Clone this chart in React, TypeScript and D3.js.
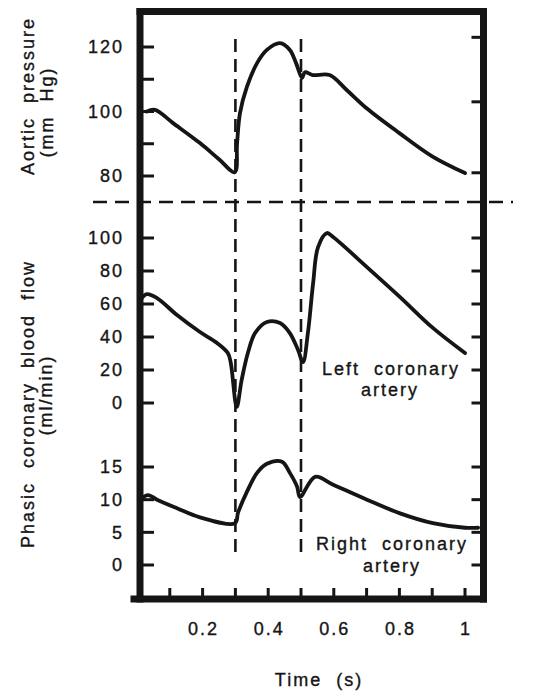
import React from "react";
import * as d3 from "d3";

// time points (s) and values
const aorticTime = [0.03, 0.055, 0.11, 0.192, 0.25, 0.298, 0.305, 0.314, 0.335, 0.366, 0.396, 0.436, 0.466, 0.485, 0.503, 0.512, 0.536, 0.587, 0.64, 0.7, 0.8, 0.9, 1.0];
const aorticPressure = [100, 100.5, 96.4, 90.2, 85.2, 81.2, 90, 99.5, 107.6, 115, 119.1, 121.2, 119.1, 115, 110.4, 112.2, 111.3, 111.3, 106.6, 101, 93.3, 86.1, 80.9];

const leftTime = [0.012, 0.03, 0.061, 0.122, 0.192, 0.244, 0.277, 0.286, 0.304, 0.319, 0.338, 0.36, 0.396, 0.436, 0.466, 0.491, 0.506, 0.521, 0.537, 0.552, 0.579, 0.598, 0.701, 0.802, 0.902, 1.0];
const leftFlow = [63, 66, 63.6, 53.3, 43, 36.4, 30.3, 24.2, -2.4, 13.9, 30.3, 42.4, 49.1, 48.5, 42.4, 32.1, 24.8, 42.4, 72.7, 94.5, 103, 100.6, 82.4, 64.2, 45.5, 30.3];

const rightTime = [0.009, 0.034, 0.061, 0.122, 0.192, 0.299, 0.308, 0.335, 0.366, 0.396, 0.442, 0.466, 0.488, 0.497, 0.543, 0.598, 0.701, 0.802, 0.902, 1.0, 1.04];
const rightFlow = [10, 10.7, 10, 8.7, 7.3, 6.4, 8, 11.2, 14.1, 15.5, 15.8, 14.1, 12, 10.4, 13.5, 12.3, 10, 7.9, 6.4, 5.7, 5.7];

const xTicks = [0.1, 0.2, 0.3, 0.4, 0.5, 0.6, 0.7, 0.8, 0.9, 1.0];
const xTickLabels = ["", "0.2", "", "0.4", "", "0.6", "", "0.8", "", "1"];
const aorticTicks = [80, 90, 100, 110, 120];
const aorticLabels = [80, 100, 120];
const aorticRightTicks = [81, 103, 123];
const leftTicks = [0, 20, 40, 60, 80, 100];
const rightTicks = [0, 5, 10, 15];
const phaseMarks = [0.3, 0.5];

const W = 533;
const H = 693;
const font = "'Liberation Sans', Arial, Helvetica, sans-serif";
const ink = "#151515";

export default function App() {
  const x = d3.scaleLinear([0, 1], [137, 465]);
  const yA = d3.scaleLinear([80, 120], [176, 47]);
  const yL = d3.scaleLinear([0, 100], [403, 238]);
  const yR = d3.scaleLinear([0, 15], [565, 467]);

  const frame = { left: 140, right: 483.5, top: 11.5, bottom: 599 };

  const line = (tt: number[], vv: number[], y: d3.ScaleLinear<number, number>) =>
    d3.line<number>()
      .x((_, i) => x(tt[i]))
      .y(v => y(v))
      .curve(d3.curveCatmullRom.alpha(0.5))(vv) as string;

  const textStyle = {
    fontFamily: font, fontSize: 18, letterSpacing: "2px", wordSpacing: "7px",
    stroke: ink, strokeWidth: 0.35,
  } as React.CSSProperties;

  const yTicks = (scale: d3.ScaleLinear<number, number>, vals: number[], side: "l" | "r") =>
    vals.map(v => (
      <line key={side + v}
        x1={side === "l" ? frame.left : frame.right}
        x2={side === "l" ? frame.left + 14 : frame.right - 12}
        y1={scale(v)} y2={scale(v)} stroke={ink} strokeWidth={3} />
    ));

  const yLabels = (scale: d3.ScaleLinear<number, number>, vals: number[]) =>
    vals.map(v => (
      <text key={v} x={124} y={scale(v)} dy="0.36em" textAnchor="end" fill={ink} style={textStyle}>{v}</text>
    ));

  return (
    <div style={{ position: "absolute", left: 0, top: 0 }}>
      <svg width={W} height={H} style={{ display: "block", background: "#fff" }}>
        {/* frame */}
        <g stroke={ink} strokeWidth={7} fill="none" strokeLinecap="square">
          <line x1={frame.left} x2={frame.left} y1={frame.top} y2={frame.bottom} />
          <line x1={frame.right} x2={frame.right} y1={frame.top} y2={frame.bottom} />
          <line x1={frame.left} x2={frame.right} y1={frame.top} y2={frame.top} />
          <line x1={134} x2={frame.right} y1={frame.bottom} y2={frame.bottom} />
        </g>

        {/* x ticks */}
        {xTicks.map((t, i) => (
          <g key={t}>
            <line x1={x(t)} x2={x(t)} y1={frame.bottom} y2={frame.bottom - 11} stroke={ink} strokeWidth={3} />
            {xTickLabels[i] && (
              <text x={x(t) + 1} y={635} textAnchor="middle" fill={ink} style={textStyle}>{xTickLabels[i]}</text>
            )}
          </g>
        ))}

        {/* y ticks */}
        {yTicks(yA, aorticTicks, "l")}
        {yTicks(yA, aorticRightTicks, "r")}
        {yTicks(yL, leftTicks, "l")}
        {yTicks(yL, leftTicks, "r")}
        {yTicks(yR, rightTicks, "l")}
        {yTicks(yR, rightTicks, "r")}
        {yLabels(yA, aorticLabels)}
        {yLabels(yL, leftTicks)}
        {yLabels(yR, rightTicks)}

        {/* phase marker lines */}
        {phaseMarks.map(t => (
          <line key={t} x1={x(t)} x2={x(t)} y1={39} y2={558} stroke={ink} strokeWidth={2.6} strokeDasharray="13,7" />
        ))}
        <line x1={93} x2={513} y1={202} y2={202} stroke={ink} strokeWidth={2.6} strokeDasharray="14,8" />

        {/* curves */}
        <g fill="none" stroke={ink} strokeWidth={3.8} strokeLinejoin="round" strokeLinecap="round">
          <path d={line(aorticTime, aorticPressure, yA)} />
          <path d={line(leftTime, leftFlow, yL)} />
          <path d={line(rightTime, rightFlow, yR)} />
        </g>

        {/* annotations */}
        <g fill={ink} style={textStyle} textAnchor="middle">
          <text x={391} y={375}>Left coronary</text>
          <text x={390} y={396}>artery</text>
          <text x={392} y={550}>Right coronary</text>
          <text x={392} y={572}>artery</text>
          <text x={319} y={686}>Time (s)</text>
        </g>

        {/* axis titles */}
        <g fill={ink} style={textStyle} textAnchor="middle">
          <text transform="translate(34,96) rotate(-90)">Aortic pressure</text>
          <text transform="translate(53,112) rotate(-90)">(mm Hg)</text>
          <text transform="translate(34,404) rotate(-90)">Phasic coronary blood flow</text>
          <text transform="translate(52,395) rotate(-90)">(ml/min)</text>
        </g>
      </svg>
    </div>
  );
}
